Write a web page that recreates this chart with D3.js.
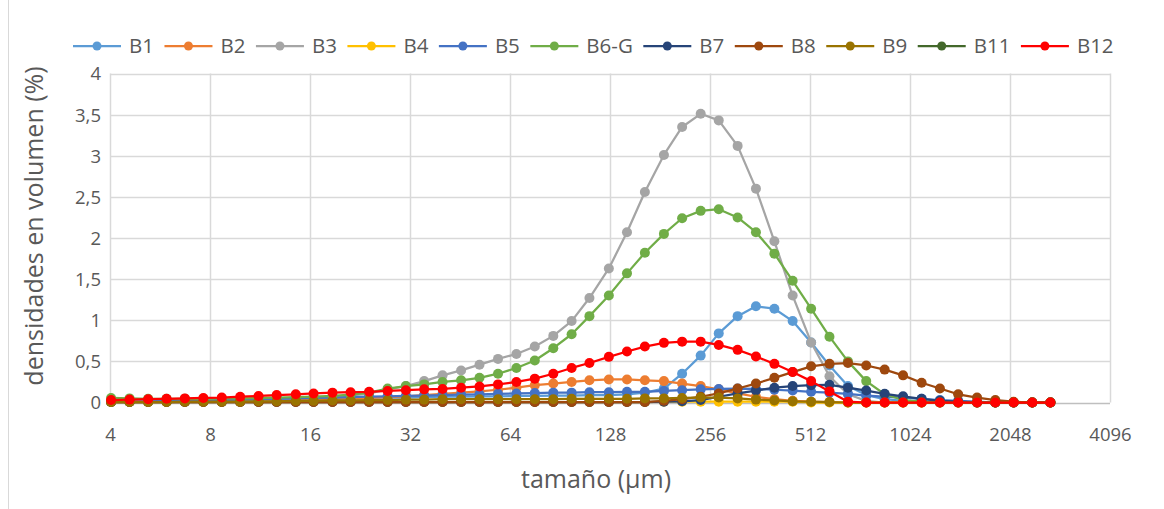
<!DOCTYPE html>
<html>
<head>
<meta charset="utf-8">
<script src="https://cdn.jsdelivr.net/npm/d3@7"></script>
<style>
  html, body { margin: 0; padding: 0; background: #fff; }
  svg { display: block; }
  text { font-family: "Open Sans", "Liberation Sans", sans-serif; fill: #595959; }
</style>
</head>
<body>
<svg id="chart" width="1164" height="509"></svg>
<script>
// Particle size classes (µm), log-spaced laser diffraction bins
const sizes = [4.03, 4.58, 5.21, 5.92, 6.72, 7.64, 8.68, 9.86, 11.2, 12.7,
  14.5, 16.4, 18.7, 21.2, 24.1, 27.4, 31.1, 35.3, 40.1, 45.6,
  51.8, 58.9, 66.9, 76.0, 86.4, 98.1, 111, 127, 144, 163,
  186, 211, 240, 272, 310, 352, 400, 454, 516, 586,
  666, 756, 859, 976, 1110, 1260, 1430, 1630, 1850, 2100,
  2390, 2710];

// Volume density (%) for each sample
const B1 = [0.01, 0.01, 0.015, 0.015, 0.02, 0.02, 0.025, 0.03, 0.03, 0.035,
  0.04, 0.045, 0.05, 0.05, 0.055, 0.06, 0.06, 0.065, 0.07, 0.07,
  0.075, 0.075, 0.08, 0.08, 0.085, 0.085, 0.09, 0.09, 0.10, 0.12,
  0.17, 0.35, 0.57, 0.84, 1.05, 1.17, 1.14, 0.99, 0.73, 0.45,
  0.20, 0.09, 0.04, 0.02, 0.01, 0, 0, 0, 0, 0, 0, 0];
const B2 = [0.01, 0.01, 0.01, 0.015, 0.015, 0.02, 0.02, 0.025, 0.03, 0.03,
  0.035, 0.04, 0.045, 0.05, 0.055, 0.065, 0.075, 0.09, 0.105, 0.12,
  0.135, 0.155, 0.18, 0.21, 0.23, 0.25, 0.27, 0.28, 0.28, 0.27,
  0.26, 0.23, 0.20, 0.16, 0.11, 0.07, 0.04, 0.02, 0.01, 0.005,
  0, 0, 0, 0, 0, 0, 0, 0, 0, 0, 0, 0];
const B3 = [0.005, 0.005, 0.01, 0.01, 0.015, 0.02, 0.02, 0.025, 0.03, 0.04,
  0.05, 0.06, 0.07, 0.085, 0.11, 0.16, 0.20, 0.26, 0.33, 0.39,
  0.46, 0.53, 0.59, 0.68, 0.81, 0.99, 1.27, 1.63, 2.07, 2.56,
  3.01, 3.35, 3.51, 3.43, 3.12, 2.60, 1.96, 1.30, 0.73, 0.32,
  0.10, 0.02, 0, 0, 0, 0, 0, 0, 0, 0, 0, 0];
const B4 = [0.005, 0.005, 0.005, 0.005, 0.005, 0.005, 0.005, 0.005, 0.005, 0.005,
  0.005, 0.005, 0.005, 0.005, 0.005, 0.005, 0.005, 0.005, 0.005, 0.005,
  0.005, 0.005, 0.005, 0.005, 0.005, 0.005, 0.005, 0.005, 0.005, 0.005,
  0.01, 0.01, 0.01, 0.01, 0.01, 0.01, 0.01, 0.01, 0, 0,
  0, 0, 0, 0, 0, 0, 0, 0, 0, 0, 0, 0];
const B5 = [0.01, 0.01, 0.015, 0.02, 0.02, 0.025, 0.03, 0.035, 0.04, 0.045,
  0.05, 0.055, 0.06, 0.065, 0.07, 0.075, 0.08, 0.085, 0.09, 0.095,
  0.10, 0.105, 0.11, 0.115, 0.12, 0.12, 0.125, 0.125, 0.13, 0.13,
  0.14, 0.15, 0.16, 0.165, 0.17, 0.165, 0.155, 0.145, 0.13, 0.12,
  0.105, 0.085, 0.07, 0.06, 0.045, 0.03, 0.02, 0.01, 0, 0, 0, 0];
const B6G = [0.055, 0.05, 0.045, 0.045, 0.045, 0.045, 0.05, 0.05, 0.055, 0.06,
  0.065, 0.07, 0.08, 0.095, 0.12, 0.17, 0.20, 0.22, 0.25, 0.27,
  0.30, 0.35, 0.42, 0.51, 0.66, 0.83, 1.05, 1.30, 1.57, 1.82,
  2.05, 2.24, 2.33, 2.35, 2.25, 2.07, 1.81, 1.48, 1.14, 0.80,
  0.50, 0.26, 0.10, 0.03, 0.01, 0, 0, 0, 0, 0, 0, 0];
const B7 = [0.005, 0.005, 0.005, 0.005, 0.005, 0.005, 0.005, 0.005, 0.005, 0.005,
  0.005, 0.005, 0.005, 0.005, 0.005, 0.005, 0.005, 0.005, 0.005, 0.005,
  0.005, 0.005, 0.005, 0.005, 0.005, 0.005, 0.005, 0.005, 0.005, 0.005,
  0.01, 0.015, 0.03, 0.07, 0.11, 0.145, 0.18, 0.20, 0.21, 0.215,
  0.18, 0.145, 0.105, 0.075, 0.045, 0.02, 0.01, 0, 0, 0, 0, 0];
const B8 = [0.005, 0.005, 0.005, 0.005, 0.005, 0.005, 0.005, 0.005, 0.005, 0.005,
  0.005, 0.005, 0.005, 0.005, 0.005, 0.005, 0.005, 0.005, 0.005, 0.005,
  0.005, 0.005, 0.005, 0.005, 0.005, 0.005, 0.005, 0.005, 0.005, 0.005,
  0.02, 0.04, 0.07, 0.11, 0.17, 0.23, 0.30, 0.37, 0.44, 0.47,
  0.48, 0.45, 0.40, 0.33, 0.24, 0.17, 0.10, 0.06, 0.03, 0.01, 0, 0];
const B9 = [0.005, 0.005, 0.005, 0.005, 0.01, 0.01, 0.01, 0.01, 0.015, 0.015,
  0.02, 0.02, 0.025, 0.025, 0.03, 0.03, 0.035, 0.035, 0.04, 0.04,
  0.04, 0.04, 0.04, 0.04, 0.04, 0.045, 0.045, 0.045, 0.045, 0.05,
  0.05, 0.055, 0.06, 0.06, 0.05, 0.035, 0.025, 0.015, 0.01, 0.005,
  0, 0, 0, 0, 0, 0, 0, 0, 0, 0, 0, 0];
const B11 = []; // no readings plotted for this sample
const B12 = [0.03, 0.035, 0.04, 0.045, 0.05, 0.055, 0.06, 0.07, 0.08, 0.09,
  0.10, 0.11, 0.12, 0.125, 0.13, 0.14, 0.15, 0.16, 0.165, 0.18,
  0.195, 0.22, 0.25, 0.29, 0.35, 0.42, 0.48, 0.555, 0.62, 0.68,
  0.725, 0.74, 0.74, 0.70, 0.64, 0.56, 0.47, 0.37, 0.26, 0.135,
  0.01, 0, 0, 0, 0, 0, 0, 0, 0, 0, 0, 0];

const seriesNames = ["B1", "B2", "B3", "B4", "B5", "B6-G", "B7", "B8", "B9", "B11", "B12"];
const seriesValues = [B1, B2, B3, B4, B5, B6G, B7, B8, B9, B11, B12];
const seriesColors = ["#5B9BD5", "#ED7D31", "#A5A5A5", "#FFC000", "#4472C4", "#70AD47",
  "#264478", "#9E480E", "#997300", "#43682B", "#FF0000"];

const xTicks = [4, 8, 16, 32, 64, 128, 256, 512, 1024, 2048, 4096];
const yTicks = [0, 0.5, 1, 1.5, 2, 2.5, 3, 3.5, 4];

const svg = d3.select("#chart");
const W = 1164, H = 509;
const plot = { left: 110, right: 1110, top: 73.5, bottom: 402.5 };

const x = d3.scaleLog().base(2).domain([4, 4096]).range([plot.left, plot.right]);
const y = d3.scaleLinear().domain([0, 4]).range([plot.bottom, plot.top]);

// chart frame edge
svg.append("line")
  .attr("x1", 8.5).attr("x2", 8.5).attr("y1", 0).attr("y2", H)
  .attr("stroke", "#d9d9d9").attr("stroke-width", 1);

// gridlines
const grid = svg.append("g");
grid.selectAll("line.h").data(yTicks.filter(d => d > 0)).join("line")
  .attr("x1", plot.left).attr("x2", plot.right)
  .attr("y1", d => Math.round(y(d)) + 0.5).attr("y2", d => Math.round(y(d)) + 0.5)
  .attr("stroke", "#d9d9d9").attr("stroke-width", 1.5);
grid.selectAll("line.v").data(xTicks).join("line")
  .attr("x1", d => Math.round(x(d)) + 0.5).attr("x2", d => Math.round(x(d)) + 0.5)
  .attr("y1", plot.top).attr("y2", plot.bottom)
  .attr("stroke", "#d9d9d9").attr("stroke-width", 1.5);

// x axis baseline
svg.append("line")
  .attr("x1", plot.left).attr("x2", plot.right)
  .attr("y1", Math.round(y(0)) + 0.5).attr("y2", Math.round(y(0)) + 0.5)
  .attr("stroke", "#bfbfbf").attr("stroke-width", 1.5);

// axis tick labels via d3 axes (domain and tick marks hidden)
const xAxis = d3.axisBottom(x).tickValues(xTicks).tickFormat(d3.format("d")).tickSize(0).tickPadding(0);
const gx = svg.append("g").attr("transform", `translate(0, ${plot.bottom})`).call(xAxis);
gx.select(".domain").remove();
gx.selectAll("text").attr("dy", null).attr("y", 38)
  .style("font-size", "18.5px").style("fill", "#595959").style("font-family", "'Open Sans', sans-serif");

const yAxis = d3.axisLeft(y).tickValues(yTicks)
  .tickFormat(d => String(d).replace(".", ",")).tickSize(0).tickPadding(0);
const gy = svg.append("g").attr("transform", `translate(${plot.left - 9}, 0)`).call(yAxis);
gy.select(".domain").remove();
gy.selectAll("text").attr("dy", "0.35em")
  .style("font-size", "18.5px").style("fill", "#595959").style("font-family", "'Open Sans', sans-serif");

// axis titles
svg.append("text")
  .attr("x", 596).attr("y", 488).attr("text-anchor", "middle")
  .style("font-size", "25px")
  .text("tamaño (µm)");
svg.append("text")
  .attr("transform", `translate(43, 226) rotate(-90)`).attr("text-anchor", "middle")
  .style("font-size", "25px")
  .text("densidades en volumen (%)");

// series lines and markers
const line = d3.line().x(d => x(d[0])).y(d => y(d[1]));
seriesNames.forEach((name, k) => {
  const pts = seriesValues[k].map((v, i) => [sizes[i], v]);
  const g = svg.append("g").attr("class", "series");
  g.append("path").datum(pts)
    .attr("d", line).attr("fill", "none")
    .attr("stroke", seriesColors[k]).attr("stroke-width", 2.25)
    .attr("stroke-linejoin", "round");
  g.selectAll("circle").data(pts).join("circle")
    .attr("cx", d => x(d[0])).attr("cy", d => y(d[1])).attr("r", 5)
    .attr("fill", seriesColors[k]);
});

// legend
const legend = svg.append("g");
let lx = 73;
seriesNames.forEach((name, k) => {
  const ly = 46;
  legend.append("line").attr("x1", lx).attr("x2", lx + 48).attr("y1", ly).attr("y2", ly)
    .attr("stroke", seriesColors[k]).attr("stroke-width", 2.25);
  legend.append("circle").attr("cx", lx + 24).attr("cy", ly).attr("r", 4.5).attr("fill", seriesColors[k]);
  const t = legend.append("text").attr("x", lx + 56).attr("y", ly).attr("dy", "0.35em")
    .style("font-size", "20.5px").text(name);
  lx = lx + 56 + t.node().getComputedTextLength() + 10.5;
});
</script>
</body>
</html>
